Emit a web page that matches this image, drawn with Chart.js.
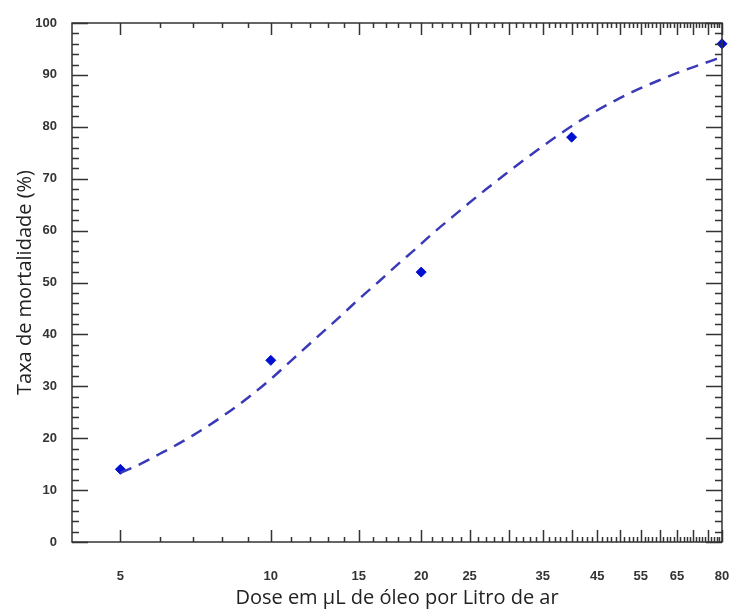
<!DOCTYPE html>
<html>
<head>
<meta charset="utf-8">
<script src="https://cdn.jsdelivr.net/npm/chart.js@4.4.1/dist/chart.umd.min.js"></script>
<style>
  body { margin: 0; background: #fff; }
  #wrap { width: 730px; height: 611px; }
</style>
</head>
<body>
<div id="wrap"><canvas id="js--chart"></canvas></div>
<script>
// dados medidos (pontos)
const doses = [5, 10, 20, 40, 80];
const mortality = [14, 35, 52, 78, 96];

// curva ajustada (tracejada)
const fitDoses = [5, 5.5, 6, 6.5, 7, 7.5, 8, 9, 10, 11, 12, 13, 14, 15, 16.5, 18, 19.5, 21, 23, 25, 27, 29.5, 32, 34.5, 37.5, 41, 44.5, 49, 54, 60, 66, 72, 78, 80];
const fitMortality = [13.3, 15.1, 17.0, 18.8, 20.6, 22.4, 24.2, 27.8, 31.4, 35.0, 38.3, 41.3, 44.1, 46.8, 50.3, 53.6, 56.5, 59.3, 62.5, 65.4, 68.0, 70.9, 73.5, 75.8, 78.3, 80.8, 82.9, 85.1, 87.1, 89.0, 90.6, 91.9, 93.1, 93.6];

// eixos
const xTickLabels = [5, 10, 15, 20, 25, 35, 45, 55, 65, 80];
const xMin = 4, xMax = 80;
const yMin = 0, yMax = 100, yStep = 10;

const axisColor = '#333';

// ticks para dentro nos 4 lados + moldura
const frameTicks = {
    id: 'frameTicks',
    afterDraw(chart) {
        const ctx = chart.ctx;
        const a = chart.chartArea;
        const xs = chart.scales.x, ys = chart.scales.y;
        ctx.save();
        ctx.strokeStyle = axisColor;
        ctx.lineWidth = 1.5;
        ctx.strokeRect(a.left, a.top, a.right - a.left, a.bottom - a.top);
        ctx.beginPath();
        for (let v = 5; v <= xMax; v++) {
            const x = Math.round(xs.getPixelForValue(v)) + 0.5;
            const len = (v % 5 === 0) ? 12 : 5;
            ctx.moveTo(x, a.bottom); ctx.lineTo(x, a.bottom - len);
            ctx.moveTo(x, a.top); ctx.lineTo(x, a.top + len);
        }
        for (let v = yMin; v <= yMax; v += 2) {
            const y = Math.round(ys.getPixelForValue(v)) + 0.5;
            const len = (v % 10 === 0) ? 16 : 7;
            ctx.moveTo(a.left, y); ctx.lineTo(a.left + len, y);
            ctx.moveTo(a.right, y); ctx.lineTo(a.right - len, y);
        }
        ctx.stroke();
        ctx.restore();
    }
};

const data = {
    datasets: [
        {
            label: 'Curva ajustada',
            data: fitDoses.map((d, i) => ({x: d, y: fitMortality[i]})),
            showLine: true,
            borderColor: '#3a3ab8',
            borderWidth: 2.5,
            borderDash: [12, 8],
            pointRadius: 0,
            cubicInterpolationMode: 'monotone',
            fill: false
        },
        {
            label: 'Mortalidade',
            data: doses.map((d, i) => ({x: d, y: mortality[i]})),
            pointStyle: 'rectRot',
            pointRadius: 5,
            backgroundColor: '#0010d0',
            borderColor: '#0010d0',
            clip: false
        }
    ]
};

const config = {
    type: 'scatter',
    data: data,
    plugins: [frameTicks],
    options: {
        responsive: true,
        maintainAspectRatio: false,
        animation: false,
        layout: { padding: { top: 23, right: 8, left: 0, bottom: 0 } },
        plugins: { legend: { display: false }, tooltip: { enabled: false } },
        scales: {
            x: {
                type: 'logarithmic',
                min: xMin,
                max: xMax,
                afterBuildTicks: (scale) => {
                    scale.ticks = xTickLabels.map(v => ({value: v}));
                },
                afterFit: (scale) => {
                    scale.height = 69;
                    scale.paddingLeft = 0;
                    scale.paddingRight = 0;
                },
                grid: { display: false },
                border: { display: false },
                ticks: {
                    color: axisColor,
                    font: { family: 'Liberation Sans', size: 13, weight: 'bold' },
                    padding: 19,
                    maxRotation: 0,
                    autoSkip: false,
                    callback: (v) => String(v)
                },
                title: {
                    display: true,
                    text: 'Dose em µL de óleo por Litro de ar',
                    color: '#222',
                    font: { family: 'Open Sans', size: 20 },
                    padding: { top: 0, bottom: 1 }
                }
            },
            y: {
                min: yMin,
                max: yMax,
                afterFit: (scale) => {
                    scale.width = 72;
                    scale.paddingTop = 0;
                    scale.paddingBottom = 0;
                },
                grid: { display: false },
                border: { display: false },
                ticks: {
                    stepSize: yStep,
                    color: axisColor,
                    font: { family: 'Liberation Sans', size: 13, weight: 'bold' },
                    padding: 7
                },
                title: {
                    display: true,
                    text: 'Taxa de mortalidade (%)',
                    color: '#222',
                    font: { family: 'Open Sans', size: 20 },
                    padding: { top: 13, bottom: 0 }
                }
            }
        }
    }
};

new Chart(document.getElementById('js--chart'), config);
</script>
</body>
</html>
